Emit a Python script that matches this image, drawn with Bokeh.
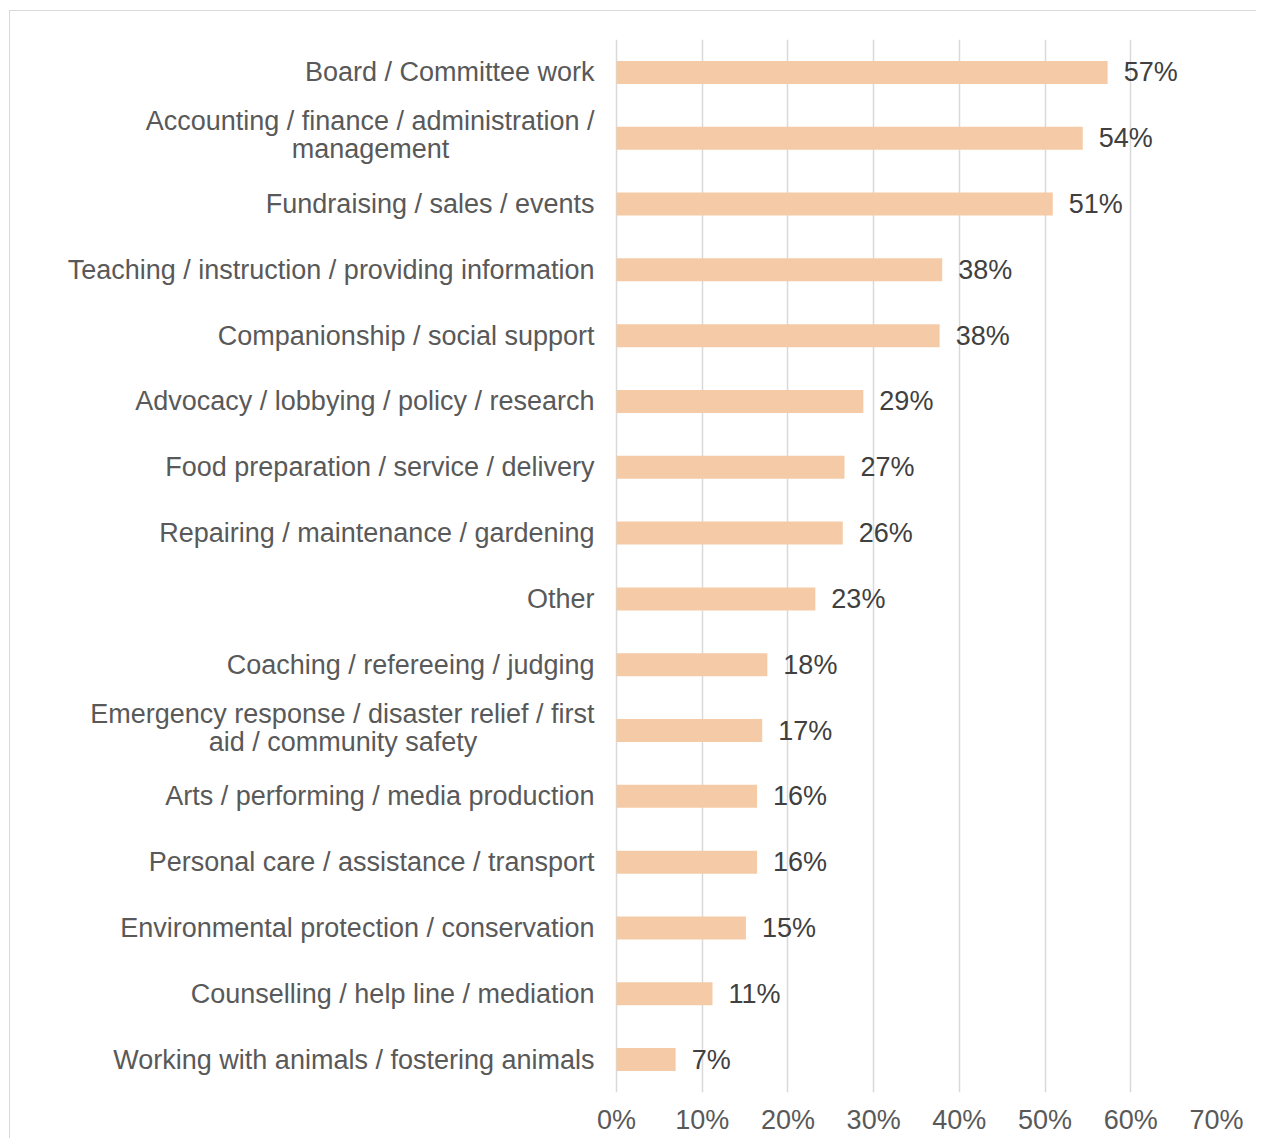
from bokeh.plotting import figure
from bokeh.models import FactorRange, FixedTicker, NumeralTickFormatter, ColumnDataSource
from bokeh.embed import file_html
from bokeh.resources import INLINE
from bokeh.core.properties import value

categories = [
    "Board / Committee work",
    "Accounting / finance / administration /\nmanagement",
    "Fundraising / sales / events",
    "Teaching / instruction / providing information",
    "Companionship / social support",
    "Advocacy / lobbying / policy / research",
    "Food preparation / service / delivery",
    "Repairing / maintenance / gardening",
    "Other",
    "Coaching / refereeing / judging",
    "Emergency response / disaster relief / first\naid / community safety",
    "Arts / performing / media production",
    "Personal care / assistance / transport",
    "Environmental protection / conservation",
    "Counselling / help line / mediation",
    "Working with animals / fostering animals",
]
shares = [0.573, 0.544, 0.509, 0.380, 0.377, 0.288, 0.266, 0.264,
          0.232, 0.176, 0.170, 0.164, 0.164, 0.151, 0.112, 0.069]
value_labels = ["57%", "54%", "51%", "38%", "38%", "29%", "27%", "26%",
                "23%", "18%", "17%", "16%", "16%", "15%", "11%", "7%"]
x_ticks = [0, 0.1, 0.2, 0.3, 0.4, 0.5, 0.6, 0.7]

FONT = "Liberation Sans"
FSIZE = "27px"
LABEL_GAP = 22            # px between category labels and the 0% line
FIRST_LINE_UP = 17        # px, first line of a wrapped label above the bar centre
SECOND_LINE_DOWN = 11     # px, second line below the bar centre
FIRST_LINE_WIDTH = {      # rendered widths (px) used to centre the second line
    "Accounting / finance / administration /": 448,
    "Emergency response / disaster relief / first": 503,
}

# layout: the frame is extended to the left so that category labels can be drawn inside it
BAR_AREA_PX = 600                      # width of 0..70%
LABEL_AREA_PX = 597                    # width left of 0%
PX_PER_UNIT = BAR_AREA_PX / 0.7
x_start = -LABEL_AREA_PX / PX_PER_UNIT

src = ColumnDataSource(dict(cat=categories, val=shares, lab=value_labels))

r_cat, r_txt, r_yo = [], [], []
c_cat, c_txt, c_xo = [], [], []
for cat in categories:
    lines = cat.split("\n")
    if len(lines) == 1:
        r_cat.append(cat); r_txt.append(cat); r_yo.append(0)
    else:
        r_cat.append(cat); r_txt.append(lines[0]); r_yo.append(-FIRST_LINE_UP)
        c_cat.append(cat); c_txt.append(lines[1])
        c_xo.append(-LABEL_GAP - FIRST_LINE_WIDTH[lines[0]] / 2)
right_src = ColumnDataSource(dict(cat=r_cat, txt=r_txt, yo=r_yo, x=[0] * len(r_cat)))
center_src = ColumnDataSource(dict(cat=c_cat, txt=c_txt, xo=c_xo, x=[0] * len(c_cat)))

p = figure(
    y_range=FactorRange(factors=list(reversed(categories))),
    x_range=(x_start, 0.7),
    frame_width=BAR_AREA_PX + LABEL_AREA_PX, frame_height=1053,
    min_border_left=9, min_border_top=28, min_border_right=40, min_border_bottom=46,
    output_backend="svg", toolbar_location=None,
    styles={"border-left": "1px solid #d9d9d9", "border-top": "1px solid #d9d9d9",
            "margin-left": "9px", "margin-top": "10px"},
)
p.outline_line_color = None

p.hbar(y="cat", right="val", left=0, height=0.35, source=src,
       fill_color="#F5CBA7", line_color=None)

p.text(x="val", y="cat", text="lab", source=src, x_offset=16,
       text_align="left", text_baseline="middle",
       text_font=value(FONT), text_font_size=FSIZE, text_color="#404040")

p.text(x="x", y="cat", text="txt", source=right_src,
       x_offset=-LABEL_GAP, y_offset="yo",
       text_align="right", text_baseline="middle",
       text_font=value(FONT), text_font_size=FSIZE, text_color="#595959")
p.text(x="x", y="cat", text="txt", source=center_src,
       x_offset="xo", y_offset=SECOND_LINE_DOWN,
       text_align="center", text_baseline="middle",
       text_font=value(FONT), text_font_size=FSIZE, text_color="#595959")

p.xgrid.ticker = FixedTicker(ticks=x_ticks)
p.xgrid.grid_line_color = "#d9d9d9"
p.xgrid.grid_line_width = 1.5
p.ygrid.grid_line_color = None

xa = p.xaxis[0]
xa.ticker = FixedTicker(ticks=x_ticks)
xa.formatter = NumeralTickFormatter(format="0%")
xa.axis_line_color = None
xa.major_tick_line_color = None
xa.minor_tick_line_color = None
xa.major_label_standoff = 6
xa.major_label_text_font = FONT
xa.major_label_text_font_size = FSIZE
xa.major_label_text_color = "#595959"

p.yaxis.visible = False

open("out.html", "w").write(file_html(p, INLINE))
